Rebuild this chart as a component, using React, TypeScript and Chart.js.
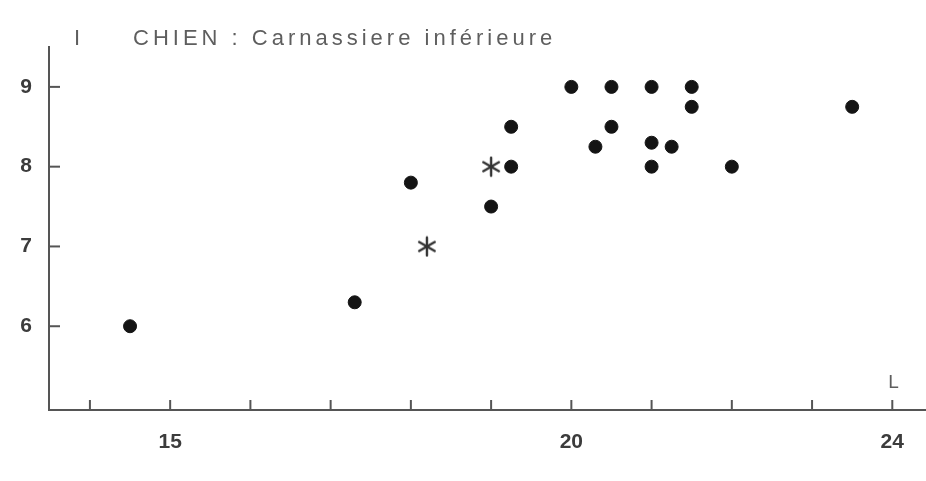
import React, { useEffect, useRef } from "react";
import { Chart, registerables } from "chart.js";

Chart.register(...registerables);

const titleText = "CHIEN : Carnassiere inférieure";
const yAxisLabel = "I";
const xAxisLabel = "L";

const xTickValues = [14, 15, 16, 17, 18, 19, 20, 21, 22, 23, 24];
const xLabeledValues = [15, 20, 24];
const yTickValues = [6, 7, 8, 9];

const dotX = [14.5, 17.3, 18.0, 19.0, 19.25, 19.25, 20.0, 20.3, 20.5, 20.5, 21.0, 21.0, 21.0, 21.25, 21.5, 21.5, 22.0, 23.5];
const dotY = [6.0, 6.3, 7.8, 7.5, 8.5, 8.0, 9.0, 8.25, 9.0, 8.5, 9.0, 8.3, 8.0, 8.25, 9.0, 8.75, 8.0, 8.75];

const starX = [18.2, 19.0];
const starY = [7.0, 8.0];

const FONT = '"Liberation Sans", Arial, Helvetica, sans-serif';

function makeAsterisk(): HTMLCanvasElement {
  const c = document.createElement("canvas");
  const s = 22;
  c.width = s;
  c.height = s;
  const ctx = c.getContext("2d")!;
  ctx.strokeStyle = "#333";
  ctx.lineWidth = 2.4;
  ctx.lineCap = "round";
  const r = 9;
  for (let i = 0; i < 3; i++) {
    const a = Math.PI / 2 + (i * Math.PI) / 3;
    ctx.beginPath();
    ctx.moveTo(s / 2 + r * Math.cos(a), s / 2 + r * Math.sin(a));
    ctx.lineTo(s / 2 - r * Math.cos(a), s / 2 - r * Math.sin(a));
    ctx.stroke();
  }
  return c;
}

const decorPlugin = {
  id: "decor",
  afterDraw(chart: any) {
    const { ctx } = chart;
    const x = chart.scales.x;
    const y = chart.scales.y;
    ctx.save();
    ctx.strokeStyle = "#555";
    ctx.lineWidth = 2;
    const x0 = x.left;
    const yb = y.bottom;
    x.ticks.forEach((t: any) => {
      const px = x.getPixelForValue(t.value);
      ctx.beginPath();
      ctx.moveTo(px, yb);
      ctx.lineTo(px, yb - 10);
      ctx.stroke();
    });
    y.ticks.forEach((t: any) => {
      const py = y.getPixelForValue(t.value);
      ctx.beginPath();
      ctx.moveTo(x0, py);
      ctx.lineTo(x0 + 11, py);
      ctx.stroke();
    });
    ctx.fillStyle = "#5e5e5e";
    ctx.textBaseline = "alphabetic";
    ctx.textAlign = "left";
    ctx.font = `22px ${FONT}`;
    (ctx as any).letterSpacing = "4px";
    ctx.fillText(titleText, x0 + 84, y.top - 2);
    (ctx as any).letterSpacing = "0px";
    ctx.fillText(yAxisLabel, x0 + 25, y.top - 2);
    ctx.font = `19px ${FONT}`;
    ctx.fillText(xAxisLabel, x.getPixelForValue(24) - 4, yb - 22);
    ctx.restore();
  },
};

export default function App() {
  const ref = useRef<HTMLCanvasElement | null>(null);

  useEffect(() => {
    if (!ref.current) return;
    const star = makeAsterisk();
    const chart = new Chart(ref.current, {
      type: "scatter",
      data: {
        datasets: [
          {
            label: "dots",
            data: dotX.map((v, i) => ({ x: v, y: dotY[i] })),
            backgroundColor: "#141414",
            borderColor: "#141414",
            pointRadius: 6.5,
            pointHoverRadius: 6.5,
          },
          {
            label: "stars",
            data: starX.map((v, i) => ({ x: v, y: starY[i] })),
            pointStyle: star as any,
            pointRadius: 11,
          },
        ],
      },
      options: {
        responsive: false,
        animation: false,
        devicePixelRatio: 1,
        layout: { autoPadding: false, padding: { top: 47, left: 0, right: 0, bottom: 0 } },
        plugins: {
          legend: { display: false },
          tooltip: { enabled: false },
          title: { display: false },
        },
        scales: {
          x: {
            type: "linear",
            min: 13.49,
            max: 24.42,
            afterBuildTicks: (s: any) => {
              s.ticks = xTickValues.map((v) => ({ value: v }));
            },
            afterFit: (s: any) => {
              s.height = 71;
              s.paddingLeft = 0;
              s.paddingRight = 0;
            },
            grid: { display: false },
            border: { display: true, color: "#555", width: 2 },
            ticks: {
              autoSkip: false,
              maxRotation: 0,
              padding: 12,
              color: "#3c3c3c",
              font: { family: FONT, size: 21, weight: "bold" },
              callback: (v: any) => (xLabeledValues.includes(Number(v)) ? String(v) : ""),
            },
          },
          y: {
            type: "linear",
            min: 4.95,
            max: 9.5,
            afterBuildTicks: (s: any) => {
              s.ticks = yTickValues.map((v) => ({ value: v }));
            },
            afterFit: (s: any) => {
              s.width = 49;
              s.paddingTop = 0;
              s.paddingBottom = 0;
            },
            grid: { display: false },
            border: { display: true, color: "#555", width: 2 },
            ticks: {
              padding: 9,
              color: "#3c3c3c",
              font: { family: FONT, size: 21, weight: "bold" },
              callback: (v: any) => String(v),
            },
          },
        },
      },
      plugins: [decorPlugin],
    });
    return () => chart.destroy();
  }, []);

  return (
    <canvas
      ref={ref}
      width={926}
      height={481}
      style={{ position: "absolute", left: 0, top: 0, width: 926, height: 481, background: "#fff" }}
    />
  );
}
